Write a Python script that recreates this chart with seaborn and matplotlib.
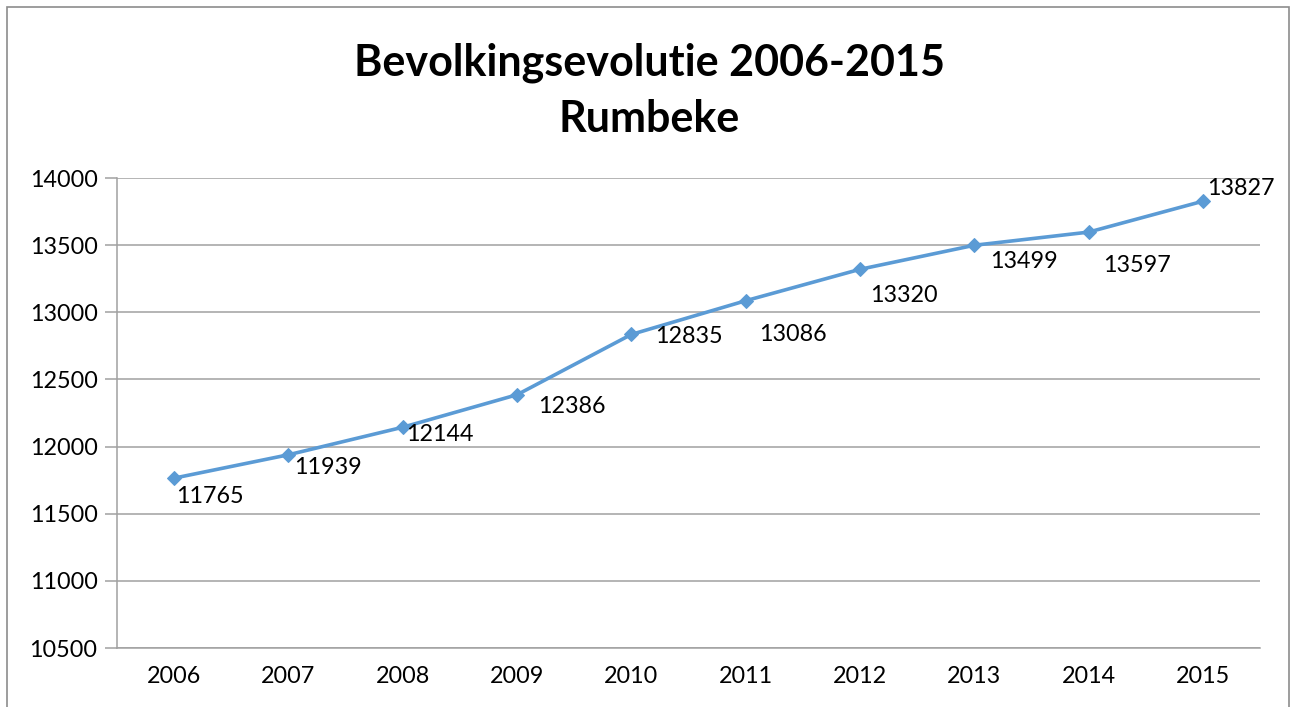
import matplotlib
matplotlib.use("Agg")
import matplotlib.pyplot as plt
import matplotlib.patches as mpatches
from matplotlib.ticker import MultipleLocator, FixedLocator
import seaborn as sns
import pandas as pd

years = ["2006", "2007", "2008", "2009", "2010", "2011", "2012", "2013", "2014", "2015"]
population = [11765, 11939, 12144, 12386, 12835, 13086, 13320, 13499, 13597, 13827]
title_lines = ["Bevolkingsevolutie 2006-2015", "Rumbeke"]

# label offsets in pixels (dx right, dy down)
label_offsets = [(2, 18), (6, 13), (3, 7), (21, 12), (24, 2), (13, 34), (10, 26), (16, 16), (15, 33), (4, -13)]

sns.set_style("white")
plt.rcParams["font.family"] = ["Lato", "DejaVu Sans"]
plt.rcParams["text.color"] = "black"

df = pd.DataFrame({"year": years, "pop": population})

fig = plt.figure(figsize=(12.98, 7.07), dpi=100)
ax = fig.add_axes([117/1298, 1 - 648/707, (1260-117)/1298, (648-178)/707])

sns.lineplot(data=df, x="year", y="pop", ax=ax, color="#5B9BD5", linewidth=2.6,
             marker="D", markersize=7.5, markeredgecolor="#5B9BD5", markerfacecolor="#5B9BD5",
             sort=False)

ax.set_xlim(-0.5, len(years) - 0.5)
ax.set_ylim(10500, 14000)
ax.yaxis.set_major_locator(MultipleLocator(500))
ax.grid(axis="y", color="#A0A0A0", linewidth=1.1)
ax.grid(axis="x", visible=False)
ax.set_xlabel("")
ax.set_ylabel("")

for s in ["top", "right"]:
    ax.spines[s].set_visible(False)
for s in ["left", "bottom"]:
    ax.spines[s].set_color("#A0A0A0")
    ax.spines[s].set_linewidth(1.1)

ax.xaxis.set_minor_locator(FixedLocator([i - 0.5 for i in range(len(years) + 1)]))
ax.tick_params(axis="x", which="major", length=0, pad=13, labelsize=16.8, labelcolor="black")
ax.tick_params(axis="x", which="minor", length=7, width=1.1, color="#A0A0A0", direction="out")
ax.tick_params(axis="y", which="major", length=9, width=1.1, color="#A0A0A0", direction="out",
               left=True, pad=5, labelsize=16.8, labelcolor="black")

for i, (y, v) in enumerate(zip(years, population)):
    dx, dy = label_offsets[i]
    ax.annotate(str(v), xy=(i, v), xytext=(dx, -dy), textcoords="offset pixels",
                ha="left", va="center", fontsize=16.8, color="black")

fig.text(0.5, 1 - 63/707, title_lines[0], ha="center", va="center", fontsize=31, fontweight="bold", color="black")
fig.text(0.5, 1 - 119/707, title_lines[1], ha="center", va="center", fontsize=31, fontweight="bold", color="black")

border = mpatches.Rectangle((7/1298, -0.05), (1289-7)/1298, 1.05 - 7/707, transform=fig.transFigure,
                            fill=False, edgecolor="#8C8C8C", linewidth=1.2, clip_on=False)
fig.patches.append(border)

fig.savefig("out.png", dpi=100)
